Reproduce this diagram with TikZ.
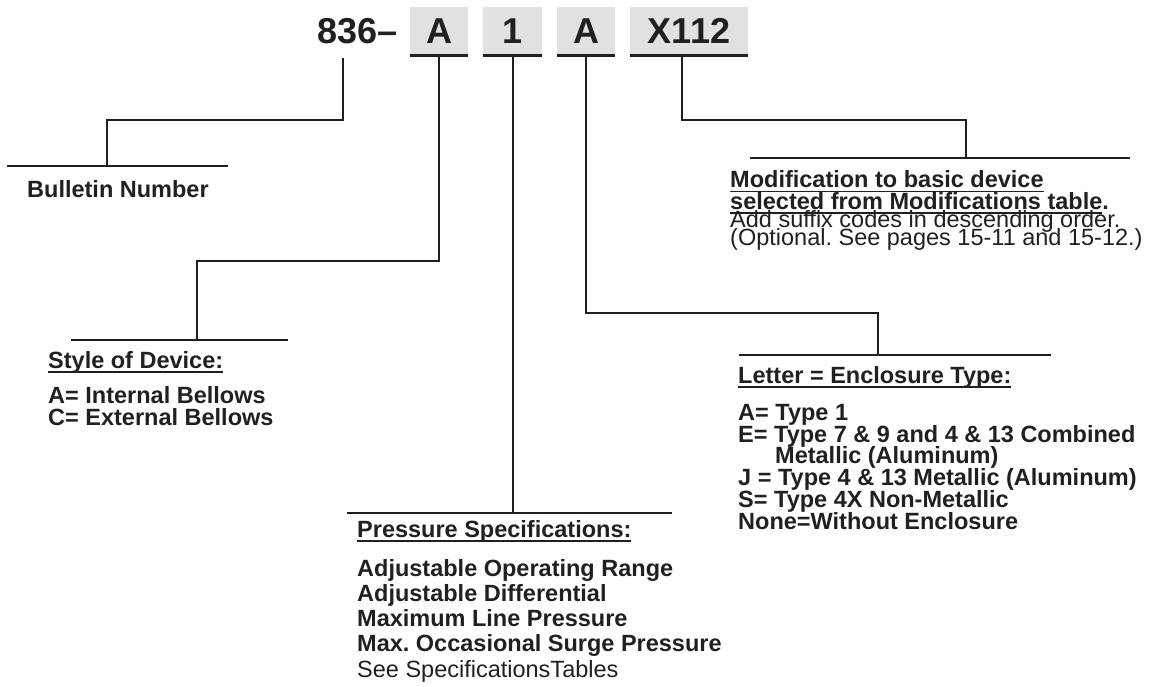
\documentclass[tikz,border=0pt]{standalone}
\usepackage{fontspec}
\setmainfont{Liberation Sans}
\usepackage{xcolor}
\usepackage{tikz}
\usetikzlibrary{positioning}
\definecolor{ink}{HTML}{231F20}
\definecolor{codegrey}{HTML}{E1E1E1}
\newsavebox{\ulbox}
\newcommand{\uln}[1]{\sbox\ulbox{#1}\rlap{\rule[-4.5pt]{\wd\ulbox}{1.7pt}}\usebox\ulbox}
\newcommand{\bodysize}{\fontsize{23.5pt}{21.7pt}\selectfont}
\newcommand{\specsize}{\fontsize{23.5pt}{25.2pt}\selectfont}
\frenchspacing
\lineskiplimit=-30pt

\begin{document}
\begin{tikzpicture}[x=1pt,y=-1pt,
    every node/.style={text=ink},
    code/.style={fill=codegrey,minimum height=48pt,inner sep=0pt,
                 font=\fontsize{36pt}{36pt}\selectfont\bfseries,
                 text height=25pt,text depth=0pt},
    lead/.style={draw=ink,line width=2pt},
    bar/.style={draw=ink,line width=2.2pt},
    codebar/.style={draw=ink,line width=3pt},
    note/.style={anchor=base west,inner sep=0pt,align=left,font=\bodysize\bfseries}
  ]
  \useasboundingbox (0,0) rectangle (1154,686);

  % catalogue number
  \node[anchor=base west,inner sep=0pt,font=\fontsize{36pt}{36pt}\selectfont\bfseries]
       (num) at (317,43) {836--};
  \node[code,minimum width=58pt]  (codeA) at (439,31)   {A};
  \node[code,minimum width=59pt]  (code1) at (512.5,31) {1};
  \node[code,minimum width=58pt]  (codeE) at (586,31)   {A};
  \node[code,minimum width=118pt] (codeX) at (689,31)   {X112};
  \foreach \c in {codeA,code1,codeE,codeX}
    \draw[codebar] (\c.south west) -- (\c.south east);

  % label rules
  \draw[bar] (7,166) -- (228,166);
  \draw[bar] (71,340) -- (288,340);
  \draw[bar] (347,513) -- (672,513);
  \draw[bar] (739,355) -- (1051,355);
  \draw[bar] (750,158) -- (1130,158);

  % leader knees
  \coordinate (numFoot) at (343,58);
  \coordinate (bulKnee) at (107,120);
  \coordinate (bulJoin) at (107,166);
  \coordinate (styKnee) at (197,261);
  \coordinate (styJoin) at (197,340);
  \coordinate (preJoin) at (512.5,513);
  \coordinate (encKnee) at (878,313);
  \coordinate (encJoin) at (878,355);
  \coordinate (modKnee) at (966,120);
  \coordinate (modJoin) at (966,158);

  \draw[lead] (numFoot) |- (bulKnee) -- (bulJoin);
  \draw[lead] (codeA.south) |- (styKnee) -- (styJoin);
  \draw[lead] (code1.south) -- (preJoin);
  \draw[lead] (codeE.south) |- (encKnee) -- (encJoin);
  \draw[lead] ([xshift=-7pt]codeX.south) |- (modKnee) -- (modJoin);

  % texts (base = last line)
  \node[note] (bulTxt) at (27,197) {Bulletin Number};
  \node[note] (styTxt) at (48,425) {\uln{Style of Device:}\\[13.3pt]
        A= Internal Bellows\\
        C= External Bellows};
  \node[note,font=\specsize\bfseries] (preTxt) at (357,677) {\uln{Pressure Specifications:}\\[13.8pt]
        Adjustable Operating Range\\
        Adjustable Differential\\
        Maximum Line Pressure\\
        Max. Occasional Surge Pressure\\
        \mdseries See SpecificationsTables};
  \node[note] (encTxt) at (738,529) {\uln{Letter = Enclosure Type:}\\[15.3pt]
        A= Type 1\\
        E= Type 7 \& 9 and 4 \& 13 Combined\\
        \hspace*{37pt}Metallic (Aluminum)\\
        J = Type 4 \& 13 Metallic (Aluminum)\\
        S= Type 4X Non-Metallic\\
        None=Without Enclosure};
  \node[note] (modTxt) at (730,245) {\uln{Modification to basic device}\\
        \uln{selected from Modifications table}.\\[-4.2pt]
        \mdseries Add suffix codes in descending order.\\[-3.7pt]
        \mdseries (Optional. See pages 15-11 and 15-12.)};

\end{tikzpicture}
\end{document}
